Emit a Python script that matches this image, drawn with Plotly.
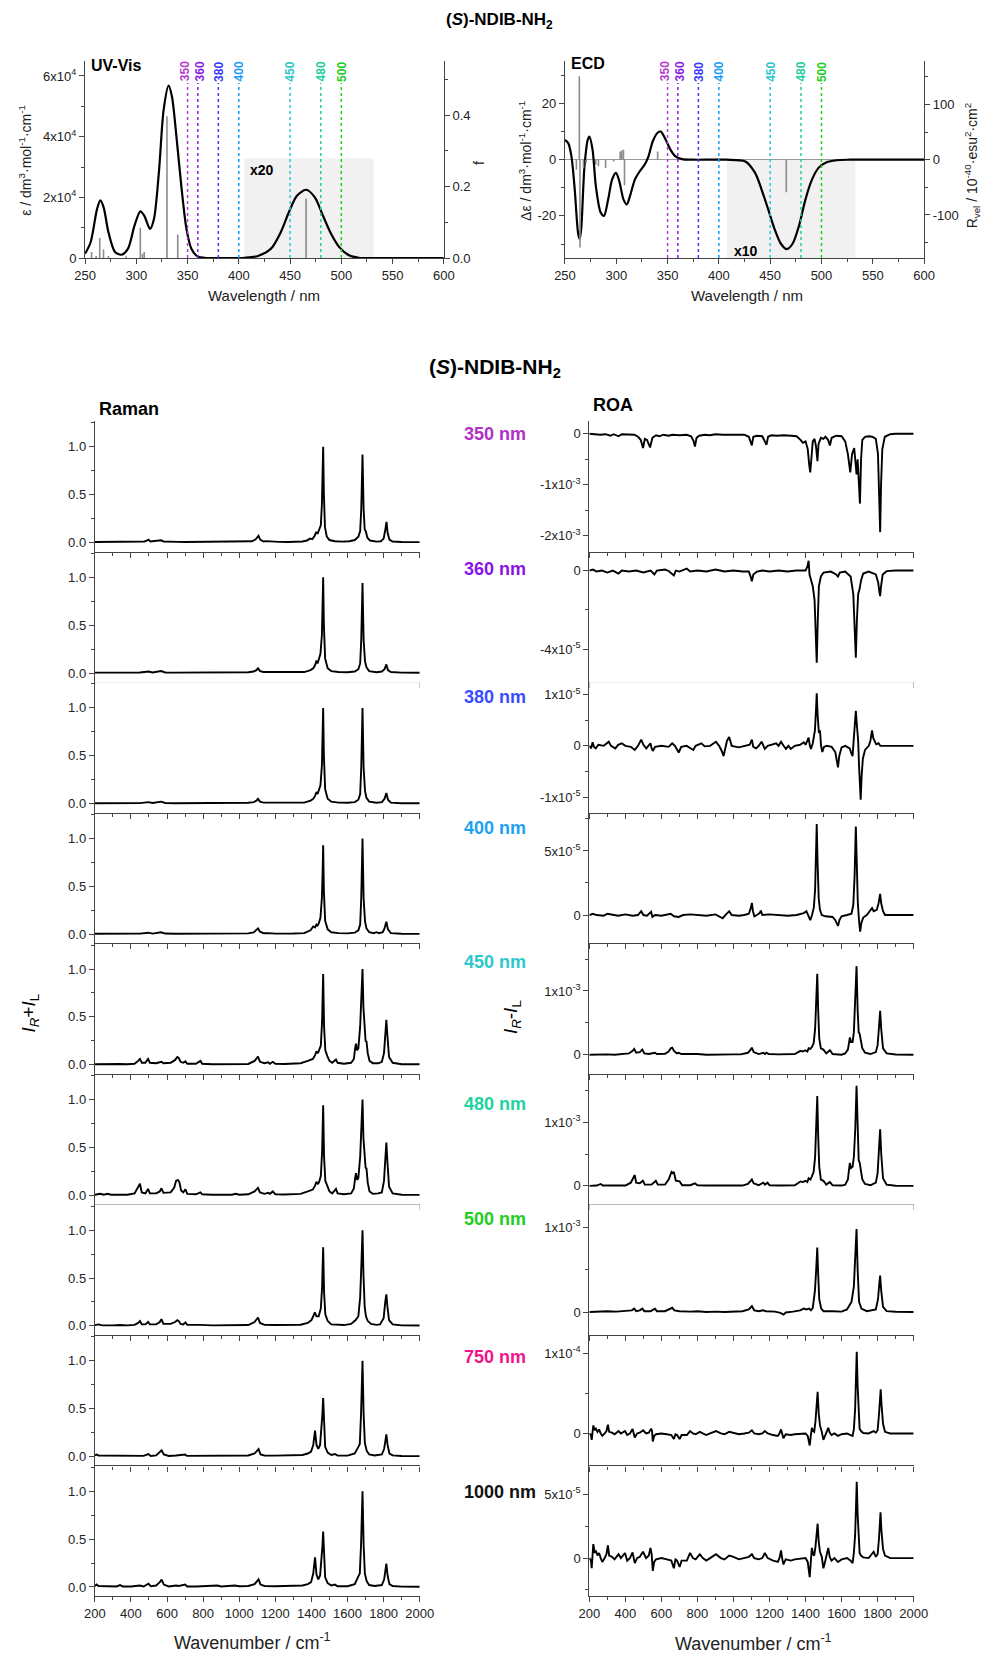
import plotly.graph_objects as go

FONT = "Liberation Sans, Arial, Helvetica, sans-serif"
W, H = 992, 1656

# ---------------- UV-Vis (epsilon in 1e4 dm3 mol-1 cm-1, band above 405 nm shown x20) ----------------
UV_WL = [250, 255.4, 261.7, 264.9, 268.1, 272.8, 279.2, 285.5, 291.9, 298.2, 303.9, 307.7,
         313.4, 317.2, 322.0, 326.7, 331.5, 334.7, 339.4, 344.2, 348.9, 353.7, 360.0, 368.0,
         380, 395, 406.0, 418.7, 431.4, 440.9, 448.8, 456.7, 465.6, 474.2, 482.0, 490.0,
         498.0, 507.5, 517.0, 530, 560, 600]
UV_EPS = [0.14, 0.52, 1.62, 1.90, 1.67, 0.85, 0.20, 0.11, 0.31, 1.07, 1.54, 1.40,
          0.96, 1.29, 2.82, 4.90, 5.68, 5.33, 3.91, 2.27, 0.96, 0.31, 0.05, 0.0,
          0.0, 0.0, 0.01, 0.07, 0.31, 0.85, 1.51, 2.05, 2.25, 2.00, 1.40, 0.80,
          0.36, 0.09, 0.01, 0.0, 0.0, 0.0]
UV_STICK_WL = [256.3, 260.8, 264.3, 268.0, 272.8, 290.0, 303.9, 306.0, 307.7, 329.9, 340.4, 465.6]
UV_STICK_F = [0.017, 0.006, 0.056, 0.024, 0.006, 0.005, 0.085, 0.012, 0.017, 0.397, 0.066, 0.167]
UV_ZOOM_BOX = (405.5, 531.5, 3.28)   # wl from, wl to, height (1e4)

# ---------------- ECD (band above 405 nm shown x10) ----------------
ECD_WL = [250, 253.2, 256.3, 259.5, 262.7, 264.3, 265.8, 269.0, 272.2, 273.8, 276.9, 280.1,
          284.8, 288.0, 292.1, 295.9, 299.7, 302.9, 307.0, 310.2, 313.4, 318.1, 322.9, 327.6,
          331.4, 335.5, 340.3, 343.4, 348.2, 352.9, 357.7, 364.0, 375.0, 406.8, 425.8, 435.3,
          441.6, 448.0, 454.3, 460.6, 466.0, 471.7, 478.1, 484.4, 490.7, 497.1, 505.0, 514.5,
          527.2, 600]
ECD_DEPS = [7.1, 5.9, 1.2, -10.6, -25.9, -28.2, -24.7, -2.4, 7.1, 8.2, 3.5, -9.4,
            -18.8, -20.0, -14.1, -7.1, -4.7, -7.6, -14.1, -15.9, -12.9, -7.1, -4.1, -1.8,
            1.2, 6.5, 9.6, 10.0, 7.1, 3.5, 1.2, 0.2, 0.0, 0.0, -0.6, -4.7,
            -10.6, -17.6, -24.7, -30.0, -31.8, -30.0, -23.5, -14.1, -7.1, -2.9, -0.9, -0.2,
            0.0, 0.0]
ECD_STICK_WL = [261.1, 264.0, 264.6, 268.0, 270.6, 280.0, 282.6, 289.6, 297.5, 303.8, 305.4,
                307.0, 308.0, 340.3, 465.7]
ECD_STICK_R = [-18, 151, -159, -15, -6, -9, -12, -15, -3, 15, 17, 18, -46, 15, -59]
ECD_ZOOM_BOX = (407.7, 533.0)

EXC_WL = [350, 360, 380, 400, 450, 480, 500]
EXC_COLORS = ["#b53ccc", "#8a1ee6", "#3a3aff", "#1e9cf5", "#2cc6cf", "#22cf98", "#22cc22"]
EXC_LABEL_SHIFT = [-3, 2, 0, 0, 0, 0, 0]   # px, keeps the two close labels apart

# ---------------- Raman (I_R + I_L, normalised) ----------------
RAMAN_350 = [(200,0.004),(240,0.005),(280,0.004),(320,0.006),(360,0.004),(400,0.005),(440,0.006),(475,0.01),(487,0.02),(497,0.03),(508,0.01),(530,0.012),(552,0.018),(567,0.022),(580,0.01),(620,0.005),(660,0.006),(700,0.004),(760,0.005),(800,0.004),(850,0.006),(900,0.005),(960,0.005),(1000,0.007),(1040,0.008),(1070,0.012),(1090,0.03),(1100,0.055),(1107,0.07),(1116,0.03),(1135,0.01),(1150,0.014),(1165,0.012),(1180,0.008),(1220,0.006),(1270,0.005),(1320,0.006),(1350,0.01),(1375,0.02),(1392,0.04),(1405,0.035),(1418,0.07),(1427,0.11),(1434,0.09),(1442,0.13),(1452,0.18),(1458,0.4),(1462,0.75),(1465,1.0),(1469,0.5),(1475,0.16),(1485,0.06),(1500,0.025),(1530,0.012),(1570,0.008),(1610,0.012),(1640,0.025),(1660,0.06),(1670,0.12),(1676,0.35),(1683,0.92),(1689,0.35),(1695,0.14),(1702,0.11),(1710,0.05),(1725,0.02),(1760,0.008),(1785,0.012),(1800,0.04),(1809,0.13),(1816,0.215),(1822,0.1),(1832,0.03),(1850,0.01),(1900,0.004),(2000,0.003)]
RAMAN_360 = [(200,0.004),(250,0.005),(300,0.004),(350,0.005),(400,0.004),(450,0.005),(497,0.015),(520,0.006),(567,0.02),(590,0.006),(640,0.004),(700,0.005),(800,0.004),(900,0.005),(1000,0.005),(1050,0.008),(1080,0.015),(1095,0.03),(1104,0.05),(1115,0.02),(1135,0.01),(1160,0.01),(1200,0.005),(1300,0.006),(1360,0.01),(1395,0.03),(1410,0.05),(1420,0.08),(1428,0.13),(1434,0.1),(1440,0.14),(1450,0.2),(1458,0.4),(1462,0.7),(1465,1.0),(1469,0.5),(1476,0.15),(1490,0.05),(1510,0.02),(1550,0.01),(1600,0.008),(1640,0.015),(1660,0.04),(1670,0.1),(1676,0.35),(1683,0.94),(1689,0.35),(1697,0.12),(1705,0.06),(1720,0.02),(1760,0.008),(1790,0.015),(1805,0.04),(1815,0.09),(1824,0.03),(1840,0.01),(1900,0.004),(2000,0.003)]
RAMAN_380 = [(200,0.004),(250,0.005),(300,0.004),(350,0.005),(400,0.004),(450,0.005),(497,0.015),(520,0.006),(567,0.02),(590,0.006),(640,0.004),(700,0.005),(800,0.004),(900,0.005),(1000,0.005),(1050,0.008),(1080,0.015),(1095,0.03),(1104,0.05),(1115,0.02),(1135,0.01),(1160,0.01),(1200,0.005),(1300,0.006),(1360,0.01),(1395,0.03),(1410,0.05),(1420,0.08),(1428,0.12),(1434,0.1),(1440,0.13),(1450,0.19),(1458,0.4),(1462,0.7),(1465,1.0),(1469,0.5),(1476,0.15),(1490,0.05),(1510,0.02),(1550,0.01),(1600,0.008),(1640,0.015),(1660,0.04),(1670,0.1),(1676,0.38),(1683,1.0),(1689,0.38),(1697,0.13),(1705,0.06),(1720,0.02),(1760,0.008),(1790,0.015),(1805,0.05),(1815,0.11),(1824,0.04),(1840,0.01),(1900,0.004),(2000,0.003)]
RAMAN_400 = [(200,0.004),(250,0.005),(300,0.004),(350,0.005),(400,0.004),(450,0.005),(497,0.015),(520,0.006),(567,0.02),(590,0.006),(640,0.004),(700,0.005),(800,0.004),(900,0.005),(1000,0.005),(1050,0.008),(1080,0.018),(1095,0.04),(1104,0.06),(1115,0.025),(1135,0.01),(1160,0.01),(1200,0.005),(1300,0.006),(1360,0.01),(1395,0.04),(1410,0.08),(1420,0.07),(1428,0.1),(1434,0.09),(1440,0.11),(1450,0.17),(1458,0.38),(1462,0.65),(1465,0.93),(1469,0.45),(1476,0.14),(1490,0.05),(1510,0.02),(1550,0.01),(1600,0.008),(1640,0.015),(1660,0.04),(1670,0.1),(1676,0.38),(1683,1.0),(1689,0.38),(1697,0.13),(1705,0.06),(1720,0.02),(1745,0.01),(1760,0.02),(1775,0.01),(1795,0.02),(1805,0.06),(1815,0.13),(1824,0.05),(1840,0.01),(1900,0.004),(2000,0.003)]
RAMAN_450 = [(200,0.005),(230,0.006),(260,0.005),(280,0.01),(300,0.006),(340,0.008),(380,0.005),(420,0.01),(440,0.04),(450,0.06),(460,0.02),(480,0.02),(495,0.06),(505,0.02),(540,0.015),(555,0.02),(569,0.03),(580,0.015),(620,0.02),(645,0.05),(657,0.08),(665,0.07),(675,0.03),(690,0.02),(702,0.035),(712,0.01),(760,0.01),(785,0.04),(795,0.01),(850,0.005),(900,0.005),(960,0.005),(980,0.01),(1000,0.005),(1050,0.008),(1085,0.04),(1097,0.07),(1104,0.085),(1115,0.03),(1140,0.015),(1160,0.025),(1170,0.01),(1186,0.03),(1200,0.01),(1250,0.008),(1300,0.01),(1340,0.015),(1380,0.04),(1395,0.05),(1408,0.06),(1420,0.1),(1428,0.14),(1436,0.12),(1442,0.15),(1452,0.2),(1459,0.45),(1465,0.947),(1470,0.4),(1477,0.15),(1488,0.09),(1500,0.04),(1515,0.02),(1530,0.04),(1536,0.055),(1545,0.02),(1580,0.01),(1620,0.02),(1635,0.06),(1642,0.17),(1647,0.22),(1653,0.15),(1660,0.17),(1670,0.4),(1677,0.7),(1683,1.0),(1688,0.6),(1695,0.3),(1700,0.25),(1705,0.245),(1712,0.12),(1722,0.04),(1740,0.015),(1770,0.015),(1790,0.03),(1802,0.12),(1809,0.35),(1815,0.47),(1821,0.3),(1830,0.08),(1850,0.02),(1900,0.005),(2000,0.004)]
RAMAN_480 = [(200,0.005),(230,0.015),(250,0.005),(270,0.015),(290,0.005),(340,0.008),(380,0.005),(420,0.02),(440,0.08),(450,0.12),(460,0.03),(480,0.02),(495,0.066),(505,0.02),(540,0.02),(560,0.04),(569,0.073),(580,0.025),(620,0.03),(640,0.08),(650,0.15),(660,0.16),(668,0.14),(678,0.05),(690,0.03),(702,0.063),(712,0.015),(760,0.01),(785,0.03),(795,0.01),(850,0.005),(900,0.005),(960,0.005),(980,0.015),(1000,0.005),(1050,0.01),(1085,0.04),(1097,0.065),(1104,0.077),(1115,0.03),(1140,0.015),(1160,0.025),(1170,0.015),(1186,0.04),(1200,0.01),(1250,0.008),(1300,0.01),(1340,0.015),(1380,0.04),(1395,0.05),(1408,0.06),(1420,0.1),(1428,0.14),(1436,0.12),(1442,0.135),(1452,0.2),(1459,0.45),(1465,0.94),(1470,0.4),(1477,0.15),(1488,0.09),(1500,0.04),(1515,0.02),(1530,0.05),(1536,0.066),(1545,0.02),(1580,0.01),(1620,0.02),(1635,0.07),(1642,0.18),(1647,0.23),(1653,0.16),(1660,0.18),(1670,0.4),(1677,0.7),(1683,1.0),(1688,0.6),(1695,0.35),(1700,0.29),(1705,0.28),(1712,0.13),(1722,0.04),(1740,0.015),(1770,0.02),(1790,0.03),(1802,0.15),(1809,0.42),(1815,0.55),(1821,0.35),(1830,0.09),(1850,0.02),(1900,0.005),(2000,0.004)]
RAMAN_500 = [(200,0.008),(220,0.015),(240,0.005),(280,0.01),(300,0.005),(340,0.008),(380,0.005),(420,0.01),(440,0.03),(450,0.05),(460,0.015),(480,0.015),(495,0.04),(505,0.015),(540,0.015),(560,0.04),(569,0.07),(580,0.02),(620,0.02),(645,0.04),(657,0.06),(665,0.05),(675,0.02),(690,0.015),(702,0.035),(712,0.01),(760,0.005),(785,0.01),(850,0.005),(900,0.005),(1000,0.005),(1050,0.008),(1085,0.04),(1097,0.075),(1104,0.087),(1115,0.03),(1140,0.01),(1200,0.008),(1300,0.008),(1340,0.012),(1380,0.03),(1400,0.06),(1410,0.1),(1419,0.14),(1428,0.1),(1440,0.1),(1452,0.18),(1459,0.4),(1465,0.82),(1470,0.35),(1477,0.12),(1490,0.05),(1510,0.015),(1540,0.01),(1580,0.008),(1620,0.02),(1645,0.06),(1660,0.1),(1670,0.3),(1677,0.65),(1683,1.0),(1688,0.55),(1695,0.2),(1702,0.1),(1712,0.05),(1730,0.02),(1760,0.01),(1780,0.015),(1800,0.08),(1809,0.25),(1815,0.33),(1821,0.2),(1830,0.06),(1850,0.015),(1900,0.005),(2000,0.004)]
RAMAN_750 = [(200,0.01),(210,0.02),(220,0.01),(240,0.01),(260,0.005),(300,0.005),(340,0.01),(360,0.005),(400,0.005),(450,0.01),(470,0.005),(497,0.025),(510,0.005),(540,0.01),(560,0.04),(570,0.063),(582,0.02),(610,0.005),(650,0.01),(700,0.02),(710,0.005),(760,0.005),(800,0.01),(880,0.01),(950,0.008),(1000,0.01),(1050,0.01),(1085,0.03),(1098,0.06),(1107,0.077),(1118,0.02),(1140,0.01),(1200,0.008),(1250,0.008),(1300,0.01),(1350,0.015),(1380,0.03),(1398,0.05),(1410,0.12),(1420,0.27),(1428,0.12),(1438,0.08),(1448,0.12),(1456,0.28),(1461,0.45),(1465,0.61),(1470,0.3),(1476,0.1),(1490,0.04),(1510,0.015),(1530,0.025),(1545,0.008),(1600,0.008),(1640,0.03),(1660,0.1),(1668,0.13),(1675,0.45),(1683,1.0),(1689,0.45),(1696,0.14),(1706,0.06),(1720,0.02),(1750,0.01),(1775,0.02),(1790,0.02),(1803,0.08),(1810,0.18),(1815,0.23),(1822,0.12),(1832,0.03),(1850,0.01),(1900,0.004),(2000,0.003)]
RAMAN_1000 = [(200,0.01),(210,0.025),(220,0.01),(240,0.01),(260,0.005),(300,0.01),(320,0.005),(340,0.02),(355,0.005),(400,0.005),(450,0.015),(470,0.005),(497,0.035),(510,0.008),(540,0.015),(560,0.05),(570,0.077),(582,0.025),(610,0.005),(650,0.015),(665,0.01),(700,0.025),(712,0.005),(760,0.005),(800,0.01),(880,0.015),(900,0.005),(950,0.008),(975,0.015),(1000,0.008),(1050,0.01),(1085,0.03),(1098,0.065),(1107,0.08),(1118,0.025),(1140,0.01),(1200,0.008),(1260,0.012),(1300,0.01),(1350,0.015),(1380,0.03),(1398,0.05),(1410,0.14),(1420,0.31),(1428,0.13),(1438,0.08),(1448,0.12),(1456,0.28),(1461,0.43),(1465,0.58),(1470,0.3),(1476,0.1),(1490,0.04),(1510,0.015),(1530,0.025),(1545,0.008),(1600,0.008),(1640,0.03),(1660,0.11),(1668,0.14),(1675,0.45),(1683,1.0),(1689,0.45),(1696,0.14),(1706,0.06),(1720,0.02),(1750,0.01),(1775,0.02),(1790,0.02),(1803,0.08),(1810,0.19),(1815,0.245),(1822,0.12),(1832,0.03),(1850,0.01),(1900,0.004),(2000,0.003)]

# ---------------- ROA (I_R - I_L), values in units of ROA_UNIT ----------------
ROA_350 = [(200,0),(230,-0.01),(260,-0.02),(290,-0.01),(317,-0.04),(335,-0.01),(362,-0.05),(380,-0.01),(420,-0.02),(450,-0.02),(470,-0.06),(485,-0.12),(498,-0.28),(508,-0.1),(520,-0.12),(537,-0.27),(550,-0.08),(570,-0.03),(590,-0.05),(610,-0.02),(640,-0.04),(660,-0.02),(700,-0.03),(740,-0.02),(765,-0.05),(778,-0.14),(786,-0.25),(795,-0.08),(810,-0.04),(840,-0.02),(870,-0.03),(900,-0.01),(940,-0.02),(980,-0.02),(1020,-0.01),(1060,-0.02),(1085,-0.06),(1097,-0.2),(1102,-0.23),(1110,-0.06),(1130,-0.04),(1160,-0.05),(1175,-0.15),(1183,-0.22),(1192,-0.06),(1210,-0.03),(1240,-0.04),(1280,-0.03),(1320,-0.04),(1350,-0.05),(1372,-0.12),(1385,-0.18),(1400,-0.15),(1412,-0.3),(1420,-0.6),(1426,-0.76),(1432,-0.5),(1440,-0.15),(1450,-0.1),(1458,-0.25),(1466,-0.54),(1472,-0.2),(1485,-0.08),(1499,-0.1),(1510,-0.06),(1525,-0.12),(1535,-0.23),(1545,-0.08),(1570,-0.04),(1600,-0.05),(1620,-0.15),(1635,-0.4),(1648,-0.76),(1658,-0.4),(1670,-0.28),(1677,-0.5),(1683,-0.8),(1689,-0.5),(1696,-0.9),(1702,-1.37),(1708,-0.5),(1715,-0.12),(1730,-0.06),(1750,-0.05),(1770,-0.06),(1790,-0.1),(1802,-0.4),(1809,-1.2),(1814,-1.93),(1819,-1.0),(1826,-0.3),(1840,-0.06),(1870,-0.01),(1900,0),(2000,0)]
ROA_360 = [(200,0),(220,0.05),(240,-0.05),(270,0),(300,-0.1),(330,0),(362,-0.15),(380,0),(420,-0.05),(460,0),(500,-0.1),(540,0),(561,-0.2),(575,0),(620,0.05),(640,-0.02),(669,-0.25),(680,0),(700,-0.05),(740,0.1),(760,-0.05),(800,0),(850,-0.05),(900,0.05),(950,-0.05),(1000,0),(1050,-0.05),(1085,-0.05),(1095,-0.3),(1102,-0.55),(1110,-0.2),(1130,-0.05),(1160,0),(1200,-0.05),(1250,0),(1300,-0.05),(1350,0),(1400,0),(1410,0.2),(1417,0.5),(1422,-0.2),(1430,-0.5),(1440,-0.8),(1450,-1.5),(1456,-3.0),(1462,-4.69),(1468,-2.5),(1474,-0.8),(1485,-0.3),(1500,-0.1),(1540,-0.05),(1570,-0.2),(1580,-0.3),(1590,-0.1),(1620,-0.05),(1650,-0.3),(1665,-1.2),(1672,-3.0),(1679,-4.44),(1685,-2.5),(1692,-1.2),(1700,-0.93),(1708,-0.5),(1720,-0.15),(1750,-0.05),(1790,-0.2),(1803,-0.6),(1810,-1.1),(1814,-1.3),(1819,-0.8),(1828,-0.2),(1850,-0.03),(1900,0),(2000,0)]
ROA_380 = [(200,0),(210,-0.05),(218,0.07),(226,-0.02),(236,-0.05),(250,0.02),(280,0),(308,0.08),(320,0),(344,-0.05),(360,0.02),(380,0.05),(400,0),(430,-0.02),(452,-0.08),(470,0),(488,0.12),(500,0.02),(516,-0.05),(528,0),(539,0.05),(546,-0.05),(552,-0.1),(565,-0.02),(600,0),(640,-0.02),(660,0.05),(675,0),(696,-0.13),(710,-0.02),(740,0),(777,-0.08),(790,0),(822,0.05),(840,-0.01),(870,0),(903,0.08),(920,0),(935,-0.1),(945,-0.2),(955,0),(964,0.1),(976,0.17),(990,0),(1030,-0.03),(1060,0),(1090,0.02),(1102,0.12),(1110,-0.02),(1125,-0.05),(1140,0),(1156,0.08),(1166,0),(1174,-0.06),(1190,0),(1237,0.05),(1250,0),(1264,0.08),(1278,0),(1291,-0.06),(1305,0),(1318,-0.06),(1340,0),(1370,0.02),(1390,0.07),(1400,0.02),(1410,0.1),(1417,0.16),(1424,0),(1430,-0.06),(1440,0.05),(1452,0.3),(1458,0.7),(1462,1.02),(1467,0.6),(1474,0.25),(1480,0.3),(1486,0),(1493,-0.12),(1502,-0.02),(1517,0),(1545,-0.02),(1565,-0.12),(1572,-0.3),(1580,-0.42),(1587,-0.2),(1600,-0.03),(1620,0),(1645,-0.05),(1655,-0.15),(1661,-0.2),(1667,0.1),(1673,0.4),(1679,0.68),(1685,0.4),(1692,0.1),(1697,-0.4),(1702,-0.9),(1706,-1.05),(1711,-0.6),(1718,-0.25),(1730,-0.08),(1751,0),(1760,0.1),(1769,0.3),(1776,0.15),(1784,0.1),(1792,0.03),(1805,0.05),(1815,0),(1823,0),(2000,0)]
ROA_400 = [(200,0),(220,0.1),(240,0),(280,-0.05),(300,0.1),(330,0),(360,-0.05),(400,0.05),(440,-0.05),(470,0),(488,0.3),(500,0),(520,-0.05),(543,0.25),(550,-0.15),(565,0),(600,-0.05),(651,0.1),(670,-0.1),(696,-0.15),(720,0),(760,0.05),(800,0),(850,-0.05),(900,0.05),(925,-0.1),(940,-0.25),(955,0),(965,0.15),(976,0.3),(990,0),(1030,-0.05),(1060,0),(1085,0.1),(1095,0.5),(1102,0.95),(1108,0.3),(1116,-0.1),(1130,0),(1145,0.15),(1152,0.35),(1160,0),(1200,0.05),(1250,0),(1300,-0.05),(1350,0),(1380,0.1),(1390,0.15),(1405,0.3),(1420,-0.2),(1426,-0.4),(1436,0),(1446,0.6),(1453,2.0),(1458,4.5),(1462,7.1),(1467,4.0),(1473,1.3),(1480,0.4),(1490,0),(1510,-0.1),(1550,-0.15),(1565,-0.4),(1573,-0.7),(1580,-0.85),(1588,-0.4),(1600,-0.1),(1630,0),(1655,0.1),(1665,0.8),(1672,3.0),(1679,6.9),(1684,3.5),(1690,1.0),(1696,-0.3),(1703,-1.3),(1710,-0.6),(1720,-0.2),(1740,0),(1760,0.35),(1769,0.55),(1778,0.3),(1795,0.4),(1805,0.9),(1814,1.65),(1820,0.9),(1830,0.3),(1841,0),(2000,0)]
ROA_450 = [(200,0),(230,0.005),(260,0.01),(300,0.005),(340,0),(380,0.005),(420,0.02),(440,0.06),(449,0.09),(460,0.03),(480,0.04),(494,0.08),(505,0.02),(530,0.01),(550,0.02),(564,0.03),(575,0.01),(620,0.015),(640,0.05),(652,0.1),(660,0.11),(670,0.06),(686,0.02),(696,0.03),(710,0.01),(760,0.01),(786,0.02),(800,0.01),(850,0),(900,0.005),(960,0),(1000,0.005),(1040,0.005),(1080,0.03),(1095,0.08),(1102,0.11),(1112,0.04),(1140,0.01),(1165,0.03),(1175,0.01),(1183,0.03),(1195,0.01),(1250,0.005),(1300,0.005),(1340,0.01),(1372,0.06),(1385,0.05),(1399,0.07),(1410,0.05),(1417,0.1),(1427,0.09),(1435,0.12),(1445,0.18),(1453,0.4),(1459,0.8),(1465,1.27),(1470,0.7),(1476,0.25),(1485,0.1),(1499,0.08),(1515,0.02),(1535,0.07),(1550,0.01),(1600,0),(1620,0.02),(1635,0.08),(1642,0.2),(1646,0.27),(1652,0.2),(1661,0.2),(1668,0.35),(1676,0.8),(1683,1.39),(1689,0.7),(1695,0.35),(1700,0.33),(1707,0.2),(1715,0.1),(1730,0.03),(1760,0.01),(1790,0.04),(1800,0.15),(1808,0.45),(1814,0.69),(1820,0.4),(1830,0.1),(1850,0.02),(1900,0.003),(2000,0)]
ROA_480 = [(200,0),(240,0.005),(263,0.03),(275,0.005),(300,0.005),(360,0),(400,0.005),(430,0.05),(445,0.14),(452,0.17),(460,0.05),(480,0.04),(497,0.08),(508,0.02),(545,0.02),(569,0.08),(580,0.02),(620,0.02),(640,0.1),(650,0.18),(656,0.22),(663,0.2),(669,0.22),(680,0.08),(701,0.07),(715,0.01),(760,0.01),(786,0.04),(800,0.01),(850,0.005),(900,0.005),(950,0),(1000,0.005),(1050,0.005),(1080,0.03),(1095,0.08),(1102,0.1),(1112,0.04),(1140,0.01),(1165,0.05),(1175,0.02),(1189,0.05),(1200,0.01),(1250,0.005),(1300,0.005),(1340,0.01),(1372,0.07),(1385,0.06),(1399,0.08),(1410,0.06),(1417,0.12),(1427,0.1),(1435,0.15),(1445,0.22),(1453,0.45),(1459,0.9),(1465,1.41),(1470,0.8),(1476,0.3),(1485,0.1),(1499,0.08),(1515,0.02),(1535,0.06),(1550,0.01),(1600,0.005),(1620,0.02),(1635,0.1),(1641,0.25),(1646,0.36),(1652,0.28),(1661,0.3),(1668,0.45),(1676,0.9),(1683,1.57),(1689,0.8),(1695,0.4),(1700,0.37),(1707,0.25),(1715,0.1),(1730,0.03),(1760,0.01),(1790,0.05),(1800,0.2),(1808,0.6),(1814,0.89),(1820,0.5),(1830,0.12),(1850,0.02),(1900,0.003),(2000,0)]
ROA_500 = [(200,0),(250,0.005),(300,0.01),(350,0.005),(400,0.01),(435,0.02),(449,0.04),(460,0.01),(480,0.02),(494,0.04),(505,0.01),(540,0.01),(564,0.04),(575,0.01),(620,0.01),(645,0.03),(660,0.05),(672,0.02),(700,0.01),(760,0.005),(800,0.01),(850,0),(900,0.005),(950,0),(1000,0.005),(1050,0.01),(1085,0.03),(1102,0.07),(1115,0.02),(1140,0.01),(1165,0.02),(1180,0.01),(1230,0.005),(1260,-0.01),(1278,-0.03),(1290,-0.005),(1330,0.005),(1370,0.02),(1390,0.04),(1405,0.03),(1420,0.04),(1430,0.02),(1440,0.05),(1452,0.25),(1459,0.5),(1465,0.76),(1470,0.45),(1476,0.15),(1487,0.04),(1500,0.01),(1550,0.01),(1600,0.005),(1630,0.03),(1646,0.1),(1655,0.12),(1668,0.3),(1676,0.6),(1683,0.98),(1689,0.5),(1697,0.12),(1710,0.04),(1740,0.01),(1790,0.03),(1802,0.15),(1809,0.33),(1814,0.43),(1820,0.25),(1830,0.06),(1850,0.01),(1900,0.003),(2000,0)]
ROA_750 = [(200,0),(209,-0.2),(213,-0.8),(218,0.3),(222,1.0),(230,0.4),(236,0.6),(245,0.2),(254,0.5),(263,0),(272,-0.3),(285,0),(295,0.3),(303,1.1),(310,0.2),(326,0.1),(340,-0.1),(362,0.3),(375,0),(398,0.3),(410,-0.2),(425,0),(440,0.55),(452,-0.5),(465,0),(480,0.1),(498,0.4),(515,0),(530,0.1),(543,0.6),(548,0.3),(552,-1.0),(560,-0.3),(570,-0.1),(600,0),(630,-0.1),(655,-0.2),(669,-0.7),(678,-0.1),(687,-0.2),(701,-0.7),(712,-0.2),(741,-0.2),(759,0.3),(775,0),(790,-0.1),(813,0.2),(830,0),(849,-0.2),(870,0),(903,0.3),(930,0),(950,-0.1),(976,0.2),(1000,0.1),(1030,-0.1),(1060,0),(1085,0.1),(1102,0.4),(1115,0),(1140,-0.1),(1160,0),(1174,0.3),(1190,0),(1220,-0.2),(1246,-0.3),(1255,0),(1264,0.5),(1270,0),(1277,-0.6),(1290,-0.1),(1318,-0.2),(1340,-0.1),(1380,0),(1400,0),(1412,-0.3),(1418,-1.0),(1423,-1.5),(1429,-0.3),(1435,0.7),(1442,0.3),(1448,0.2),(1455,1.5),(1461,3.5),(1467,5.2),(1473,2.5),(1480,1.0),(1490,0.2),(1499,-0.8),(1508,-0.3),(1518,0.3),(1526,0.7),(1534,0.1),(1544,-0.2),(1560,0),(1580,-0.3),(1600,-0.1),(1630,0),(1650,-0.2),(1661,-0.3),(1668,0.5),(1675,3.0),(1680,7.0),(1684,10.2),(1689,6.0),(1694,2.5),(1700,0.6),(1708,0.3),(1720,0.05),(1750,0),(1770,0.2),(1778,0.3),(1790,0.1),(1800,0.4),(1808,2.5),(1813,4.5),(1817,5.5),(1822,3.5),(1830,1.2),(1841,0.2),(1870,0),(2000,0)]
ROA_1000 = [(200,0),(209,-0.2),(213,-0.8),(218,0.4),(222,1.1),(230,0.4),(236,0.6),(245,0.2),(254,0.4),(263,0),(272,-0.3),(285,0),(295,0.3),(303,1.0),(310,0.2),(326,0.1),(340,-0.1),(362,0.3),(375,0),(398,0.4),(410,-0.2),(425,0),(440,0.45),(452,-0.4),(465,0),(480,0.1),(498,0.5),(515,0),(530,0.2),(539,0.8),(546,0.3),(552,-1.0),(560,-0.3),(570,-0.1),(600,0),(630,-0.1),(655,-0.2),(669,-0.8),(678,-0.1),(687,-0.2),(701,-0.7),(712,-0.2),(741,-0.2),(759,0.4),(775,0),(790,-0.1),(813,0.3),(830,0),(849,-0.2),(870,0),(903,0.3),(930,0),(950,-0.1),(976,0.2),(1000,0.1),(1030,-0.1),(1060,0),(1085,0.1),(1102,0.3),(1115,0),(1140,-0.1),(1160,0),(1174,0.4),(1190,0),(1220,-0.2),(1246,-0.3),(1255,0),(1264,0.6),(1270,0),(1277,-0.5),(1290,-0.1),(1318,-0.2),(1340,-0.1),(1380,0),(1400,0),(1412,-0.3),(1418,-1.0),(1423,-1.5),(1429,-0.3),(1435,0.8),(1442,0.3),(1448,0.2),(1455,0.9),(1461,1.9),(1467,2.7),(1473,1.3),(1480,0.5),(1490,0.1),(1499,-0.8),(1508,-0.3),(1518,0.3),(1526,0.8),(1534,0.1),(1544,-0.2),(1560,0),(1580,-0.3),(1600,-0.1),(1630,0),(1650,-0.2),(1661,-0.4),(1668,0.4),(1675,1.8),(1680,4.0),(1684,6.0),(1689,3.5),(1694,1.4),(1700,0.4),(1708,0.2),(1720,0.05),(1750,0),(1770,0.3),(1778,0.5),(1790,0.1),(1800,0.3),(1808,1.6),(1812,2.8),(1816,3.6),(1821,2.2),(1830,0.7),(1841,0.2),(1870,0),(2000,0)]

PANEL_LABELS = ["350 nm", "360 nm", "380 nm", "400 nm", "450 nm", "480 nm", "500 nm", "750 nm", "1000 nm"]
PANEL_COLORS = ["#b030c8", "#8a14e6", "#3a4cff", "#1ea2f0", "#2cc8cc", "#22d2a0", "#22cc22", "#f0148c", "#111111"]
RAMAN = [RAMAN_350, RAMAN_360, RAMAN_380, RAMAN_400, RAMAN_450, RAMAN_480, RAMAN_500, RAMAN_750, RAMAN_1000]
ROA = [ROA_350, ROA_360, ROA_380, ROA_400, ROA_450, ROA_480, ROA_500, ROA_750, ROA_1000]
ROA_UNIT = [1e-3, 1e-5, 1e-5, 1e-5, 1e-3, 1e-3, 1e-3, 1e-5, 1e-5]
# y-axis: range, major ticks (mantissa, exponent), minor step
ROA_AXES = [
    ((-2.31e-3, 0.25e-3), [(-2, -3), (-1, -3), (0, 0)], 0.5e-3),
    ((-5.68e-5, 0.97e-5), [(-4, -5), (0, 0)], 2e-5),
    ((-1.30e-5, 1.24e-5), [(-1, -5), (0, 0), (1, -5)], 0.5e-5),
    ((-2.2e-5, 7.99e-5), [(0, 0), (5, -5)], 2.5e-5),
    ((-0.30e-3, 1.75e-3), [(0, 0), (1, -3)], 0.5e-3),
    ((-0.29e-3, 1.76e-3), [(0, 0), (1, -3)], 0.5e-3),
    ((-0.27e-3, 1.27e-3), [(0, 0), (1, -3)], 0.5e-3),
    ((-0.40e-4, 1.23e-4), [(0, 0), (1, -4)], 0.5e-4),
    ((-2.98e-5, 7.27e-5), [(0, 0), (5, -5)], 2.5e-5),
]


def unzip(pairs):
    return [p[0] for p in pairs], [p[1] for p in pairs]


def sticks(xs, ys):
    sx, sy = [], []
    for x, y in zip(xs, ys):
        sx += [x, x, None]
        sy += [0, y, None]
    return sx, sy


def py(v):
    return 1 - v / H


LINE = "#444444"
TICKFONT = dict(family=FONT, size=13, color="#222222")
BASE_AX = dict(showline=True, linecolor=LINE, linewidth=1.2, ticks="outside", ticklen=5,
               tickwidth=1.1, tickcolor=LINE, showgrid=False, zeroline=False, tickfont=TICKFONT)

fig = go.Figure()
layout = dict(width=W, height=H, margin=dict(l=0, r=0, t=0, b=0), paper_bgcolor="white",
              plot_bgcolor="white", showlegend=False, font=dict(family=FONT, size=13, color="#222"))
shapes, annotations = [], []

# ---------- UV-Vis panel ----------
uv_dom_y = [py(259.3), py(61.7)]
layout["xaxis"] = dict(BASE_AX, domain=[76 / W, 444 / W], range=[250, 600], anchor="y",
                       tickvals=list(range(250, 601, 50)),
                       minor=dict(dtick=25, tick0=250, ticks="outside", ticklen=3, tickcolor=LINE))
layout["yaxis"] = dict(BASE_AX, domain=uv_dom_y, range=[0, 6.48e4], anchor="x",
                       tickvals=[0, 2e4, 4e4, 6e4],
                       ticktext=["0", "2x10<sup>4</sup>", "4x10<sup>4</sup>", "6x10<sup>4</sup>"],
                       minor=dict(dtick=1e4, tick0=0, ticks="outside", ticklen=3, tickcolor=LINE))
layout["yaxis2"] = dict(BASE_AX, overlaying="y", side="right", anchor="x", range=[0, 0.551],
                        tickvals=[0, 0.2, 0.4], ticktext=["0.0", "0.2", "0.4"],
                        minor=dict(dtick=0.1, tick0=0, ticks="outside", ticklen=3, tickcolor=LINE))

x0, x1, hb = UV_ZOOM_BOX
shapes.append(dict(type="rect", xref="x", yref="y", x0=x0, x1=x1, y0=0, y1=hb * 1e4,
                   fillcolor="#f1f1f1", line=dict(width=0), layer="below"))
sx, sy = sticks(UV_STICK_WL, UV_STICK_F)
fig.add_trace(go.Scatter(x=sx, y=sy, xaxis="x", yaxis="y2", mode="lines",
                         line=dict(color="#8c8c8c", width=1.6), hoverinfo="skip"))
fig.add_trace(go.Scatter(x=UV_WL, y=[v * 1e4 for v in UV_EPS], xaxis="x", yaxis="y", mode="lines",
                         line=dict(color="black", width=2.2, shape="spline", smoothing=0.8)))

# ---------- ECD panel ----------
layout["xaxis2"] = dict(BASE_AX, domain=[568.3 / W, 936.7 / W], range=[250, 600], anchor="y3",
                        tickvals=list(range(250, 601, 50)),
                        minor=dict(dtick=25, tick0=250, ticks="outside", ticklen=3, tickcolor=LINE))
layout["yaxis3"] = dict(BASE_AX, domain=uv_dom_y, range=[-35, 35], anchor="x2",
                        tickvals=[-20, 0, 20], ticktext=["-20", "0", "20"],
                        zeroline=True, zerolinecolor="#9a9a9a", zerolinewidth=1.2,
                        minor=dict(dtick=10, tick0=0, ticks="outside", ticklen=3, tickcolor=LINE))
layout["yaxis4"] = dict(BASE_AX, overlaying="y3", side="right", anchor="x2", range=[-178, 178],
                        tickvals=[-100, 0, 100], ticktext=["-100", "0", "100"],
                        minor=dict(dtick=50, tick0=0, ticks="outside", ticklen=3, tickcolor=LINE))
shapes.append(dict(type="rect", xref="x2", yref="y3", x0=ECD_ZOOM_BOX[0], x1=ECD_ZOOM_BOX[1],
                   y0=-35, y1=0, fillcolor="#f1f1f1", line=dict(width=0), layer="below"))
sx, sy = sticks(ECD_STICK_WL, ECD_STICK_R)
fig.add_trace(go.Scatter(x=sx, y=sy, xaxis="x2", yaxis="y4", mode="lines",
                         line=dict(color="#8c8c8c", width=1.6), hoverinfo="skip"))
fig.add_trace(go.Scatter(x=ECD_WL, y=ECD_DEPS, xaxis="x2", yaxis="y3", mode="lines",
                         line=dict(color="black", width=2.2, shape="spline", smoothing=0.8)))

# excitation wavelengths marked in both spectra
for xr, yr in (("x", "y"), ("x2", "y3")):
    for wl, col, shift in zip(EXC_WL, EXC_COLORS, EXC_LABEL_SHIFT):
        shapes.append(dict(type="line", xref=xr, yref=yr + " domain", x0=wl, x1=wl, y0=0, y1=0.89,
                           line=dict(color=col, width=1.5, dash="dot")))
        annotations.append(dict(xref=xr, yref=yr + " domain", x=wl, y=0.948, text="<b>%d</b>" % wl,
                                textangle=-90, showarrow=False, xshift=shift,
                                font=dict(family=FONT, size=12, color=col)))


def note(x, y, text, size, color="#222", bold=False, angle=0, anchor="center"):
    return dict(xref="paper", yref="paper", x=x / W, y=py(y), showarrow=False, textangle=angle,
                text="<b>%s</b>" % text if bold else text, xanchor=anchor,
                font=dict(family=FONT, size=size, color=color))


annotations += [
    note(80, 66, "UV-Vis", 16, "black", True, anchor="left"),
    note(572, 64, "ECD", 16, "black", True, anchor="left"),
    dict(xref="x", yref="y", x=409, y=2.9e4, text="<b>x20</b>", showarrow=False, xanchor="left",
         font=dict(family=FONT, size=14, color="black")),
    dict(xref="x2", yref="y3", x=413, y=-32.6, text="<b>x10</b>", showarrow=False, xanchor="left",
         font=dict(family=FONT, size=14, color="black")),
    note(260, 297, "Wavelength / nm", 15),
    note(755, 297, "Wavelength / nm", 15),
    note(15, 161, "ε / dm<sup>3</sup>·mol<sup>-1</sup>·cm<sup>-1</sup>", 14, angle=-90),
    note(480, 164, "f", 14, angle=-90),
    note(528, 162, "Δε / dm<sup>3</sup>·mol<sup>-1</sup>·cm<sup>-1</sup>", 14, angle=-90),
    note(986, 166, "R<sub>vel</sub> / 10<sup>-40</sup>·esu<sup>2</sup>·cm<sup>2</sup>", 14, angle=-90),
    note(501, 21, "(<i>S</i>)-NDIB-NH<sub>2</sub>", 17, "black", True),
    note(497, 370, "(<i>S</i>)-NDIB-NH<sub>2</sub>", 21, "black", True),
    note(88, 411, "Raman", 18, "black", True, anchor="left"),
    note(595, 407, "ROA", 18, "black", True, anchor="left"),
    note(20, 1018, "<i>I</i><sub><i>R</i></sub>+<i>I</i><sub>L</sub>", 19, "black", angle=-90),
    note(514, 1022, "<i>I</i><sub><i>R</i></sub>-<i>I</i><sub>L</sub>", 19, "black", angle=-90),
    note(248, 1649, "Wavenumber / cm<sup>-1</sup>", 18),
    note(762, 1650, "Wavenumber / cm<sup>-1</sup>", 18),
]

# ---------- Raman / ROA stacks ----------
TOP0, PITCH = 423.0, 131.2
LABEL_Y = [436, 572, 700, 832, 967, 1109, 1225, 1364, 1499]
WN_TICKS = list(range(200, 2001, 200))


def fmt_tick(m, e):
    if m == 0:
        return "0"
    return "%dx10<sup>%d</sup>" % (m, e)


for k in range(9):
    top = TOP0 + k * PITCH
    dom_y = [py(top + PITCH), py(top)]
    last = k == 8
    xr_r, yr_r = 3 + k, 5 + k
    xr_o, yr_o = 12 + k, 14 + k
    xminor = dict(dtick=100, tick0=200, ticks="outside", ticklen=3, tickcolor=LINE)

    layout["xaxis%d" % xr_r] = dict(BASE_AX, domain=[86 / W, 419.3 / W], range=[200, 2000],
                                    anchor="y%d" % yr_r, tickvals=WN_TICKS, showticklabels=last,
                                    minor=xminor)
    layout["yaxis%d" % yr_r] = dict(BASE_AX, domain=dom_y, range=[-0.095, 1.27], anchor="x%d" % xr_r,
                                    tickvals=[0, 0.5, 1.0], ticktext=["0.0", "0.5", "1.0"],
                                    minor=dict(dtick=0.25, tick0=0, ticks="outside", ticklen=3,
                                               tickcolor=LINE))
    rx, ryv = unzip(RAMAN[k])
    fig.add_trace(go.Scatter(x=rx, y=ryv, xaxis="x%d" % xr_r, yaxis="y%d" % yr_r, mode="lines",
                             line=dict(color="black", width=1.9)))

    rng, majors, mstep = ROA_AXES[k]
    layout["xaxis%d" % xr_o] = dict(BASE_AX, domain=[593.3 / W, 926 / W], range=[200, 2000],
                                    anchor="y%d" % yr_o, tickvals=WN_TICKS, showticklabels=last,
                                    minor=xminor)
    layout["yaxis%d" % yr_o] = dict(BASE_AX, domain=dom_y, range=list(rng), anchor="x%d" % xr_o,
                                    tickvals=[m * 10.0 ** e if m else 0 for m, e in majors],
                                    ticktext=[fmt_tick(m, e) for m, e in majors],
                                    minor=dict(dtick=mstep, tick0=0, ticks="outside", ticklen=3,
                                               tickcolor=LINE))
    ox, oy = unzip(ROA[k])
    fig.add_trace(go.Scatter(x=ox, y=[v * ROA_UNIT[k] for v in oy], xaxis="x%d" % xr_o,
                             yaxis="y%d" % yr_o, mode="lines", line=dict(color="black", width=1.9)))

    annotations.append(note(463, LABEL_Y[k], PANEL_LABELS[k], 18, PANEL_COLORS[k], True, anchor="left"))

for a in annotations:
    a.setdefault("xanchor", "center")
    a.setdefault("yanchor", "middle")

layout["shapes"] = shapes
layout["annotations"] = annotations
fig.update_layout(**layout)
fig.write_html("out.html")
